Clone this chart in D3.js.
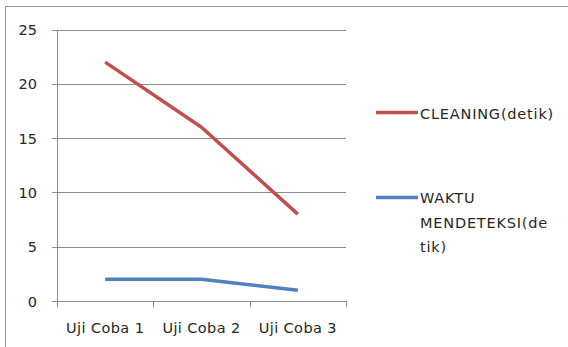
<!DOCTYPE html>
<html><head><meta charset="utf-8">
<script src="https://cdn.jsdelivr.net/npm/d3@7"></script>
<style>html,body{margin:0;padding:0;background:#fff;}svg{display:block;}</style>
</head><body>
<svg id="c" width="568" height="347"></svg>
<script>
const categories = ["Uji Coba 1", "Uji Coba 2", "Uji Coba 3"];
const cleaning = [22, 16, 8];
const waktu = [2, 2, 1];
const yTicks = [0, 5, 10, 15, 20, 25];
const seriesNames = ["CLEANING(detik)", "WAKTU MENDETEKSI(detik)"];
const legendLines = [["CLEANING(detik)"], ["WAKTU", "MENDETEKSI(de", "tik)"]];
const colors = ["#C0504D", "#4F81BD"];

(function () {
const svg = d3.select("#c");
const font = "'DejaVu Sans', sans-serif";
const fs = 14.5;
const ls = 0.8;
const textColor = "#262626";
const gridColor = "#8c8c8c";

// frame
svg.append("rect").attr("x", 5.5).attr("y", 6.5).attr("width", 600).attr("height", 400)
  .attr("fill", "none").attr("stroke", "#999").attr("stroke-width", 1);

const pLeft = 57, pRight = 346, pTop = 29.5, pBottom = 301;
const x = d3.scaleBand().domain(categories).range([pLeft, pRight]);
const y = d3.scaleLinear().domain([0, 25]).range([pBottom, pTop]);

// gridlines
svg.append("g").selectAll("line").data(yTicks).join("line")
  .attr("x1", pLeft - 5).attr("x2", pRight)
  .attr("y1", d => Math.round(y(d)) + 0.5).attr("y2", d => Math.round(y(d)) + 0.5)
  .attr("stroke", gridColor).attr("stroke-width", 1);

// y axis line
svg.append("line").attr("x1", pLeft + 0.5).attr("x2", pLeft + 0.5)
  .attr("y1", Math.round(y(25))).attr("y2", Math.round(y(0)) + 1)
  .attr("stroke", gridColor);

// y labels
svg.append("g").selectAll("text").data(yTicks).join("text")
  .attr("x", 37).attr("y", d => y(d) + 5.5)
  .attr("text-anchor", "end").attr("font-family", font).attr("font-size", fs)
  .attr("fill", textColor).text(d => d);

// x ticks
const xt = [pLeft, ...categories.map(c => x(c) + x.bandwidth())];
svg.append("g").selectAll("line").data(xt).join("line")
  .attr("x1", d => Math.round(d) + 0.5).attr("x2", d => Math.round(d) + 0.5)
  .attr("y1", Math.round(y(0))).attr("y2", Math.round(y(0)) + 6)
  .attr("stroke", gridColor);

// x labels
svg.append("g").selectAll("text").data(categories).join("text")
  .attr("x", d => x(d) + x.bandwidth() / 2).attr("y", 333)
  .attr("text-anchor", "middle").attr("font-family", font).attr("font-size", fs)
  .attr("letter-spacing", 0.4)
  .attr("fill", textColor).text(d => d);

// lines
const line = d3.line().x((d, i) => x(categories[i]) + x.bandwidth() / 2).y(d => y(d));
[cleaning, waktu].forEach((s, i) => {
  svg.append("path").datum(s).attr("d", line).attr("fill", "none")
    .attr("stroke", colors[i]).attr("stroke-width", 3.5).attr("stroke-linejoin", "round");
});

// legend
const legY = [112.5, 197.5];
const legBase = [119, 203];
legendLines.forEach((lines, i) => {
  svg.append("line").attr("x1", 376).attr("x2", 418).attr("y1", legY[i]).attr("y2", legY[i])
    .attr("stroke", colors[i]).attr("stroke-width", 3.5);
  lines.forEach((t, j) => {
    svg.append("text").attr("x", 420).attr("y", legBase[i] + j * 24.5)
      .attr("font-family", font).attr("font-size", fs).attr("letter-spacing", ls)
      .attr("fill", textColor).text(t);
  });
});
})();
</script>
</body></html>
